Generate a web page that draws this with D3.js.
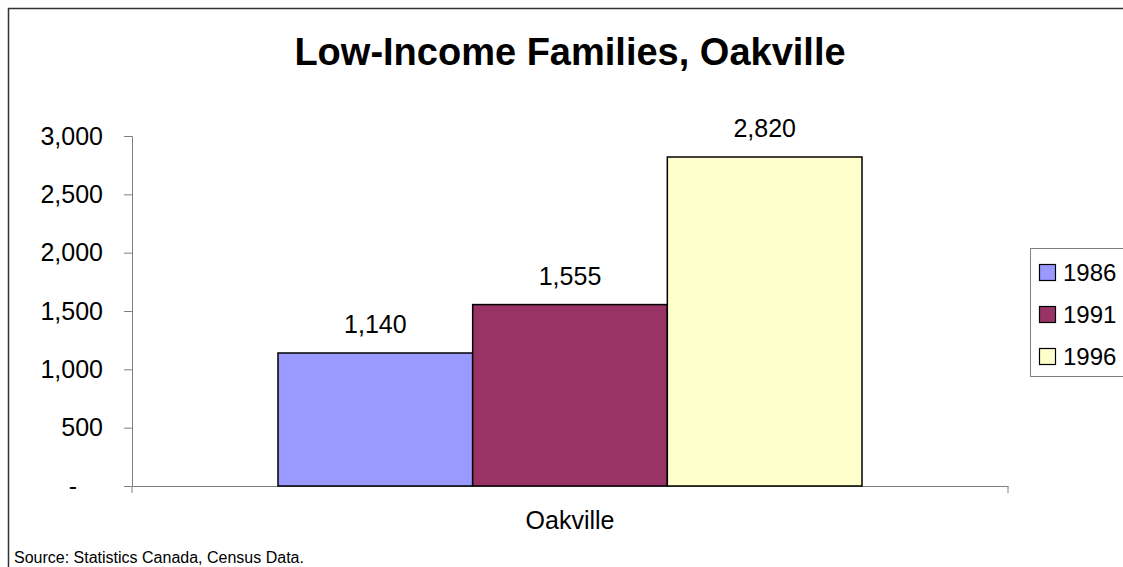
<!DOCTYPE html>
<html>
<head>
<meta charset="utf-8">
<script src="https://cdn.jsdelivr.net/npm/d3@7"></script>
<style>
  body { margin: 0; background: #fff; }
  text { font-family: "Liberation Sans", Arial, sans-serif; fill: #000; }
</style>
</head>
<body>
<div id="chart"></div>
<script>
const categories = ['Oakville'];
const years = ['1986', '1991', '1996'];
const values = [1140, 1555, 2820];
const colors = ['#9999FF', '#993366', '#FFFFCC'];
const yTicks = [0, 500, 1000, 1500, 2000, 2500, 3000];

const width = 1123, height = 567;
const plot = { left: 132, right: 1008, top: 136, bottom: 486 };
const font = '"Liberation Sans", Arial, sans-serif';

const svg = d3.select('#chart')
    .append('svg')
    .attr('width', width)
    .attr('height', height);

// outer frame (runs off the right and bottom edge)
svg.append('rect')
    .attr('x', 8.5).attr('y', 8.5)
    .attr('width', 1130).attr('height', 600)
    .attr('fill', 'none')
    .attr('stroke', '#333')
    .attr('stroke-width', 1.5);

svg.append('text')
    .attr('x', 570).attr('y', 65)
    .attr('text-anchor', 'middle')
    .attr('font-size', '38px')
    .attr('font-weight', 'bold')
    .text('Low-Income Families, Oakville');

const y = d3.scaleLinear().domain([0, 3000]).range([plot.bottom, plot.top]);
const x0 = d3.scaleBand().domain(categories).range([plot.left, plot.right]);
const x1 = d3.scaleBand().domain(years)
    .range([0, x0.bandwidth()])
    .paddingOuter(0.75)
    .paddingInner(0);

const fmt = d3.format(',');

const yAxis = svg.append('g')
    .attr('transform', `translate(${plot.left},0)`)
    .call(d3.axisLeft(y).tickValues(yTicks).tickSize(8).tickPadding(21)
        .tickFormat(d => d === 0 ? '-' : fmt(d)));
yAxis.selectAll('path, line').attr('stroke', '#808080');
yAxis.selectAll('text').attr('font-size', '25px')
    .attr('font-family', font)
    .attr('fill', '#000');
yAxis.selectAll('.tick text').filter(d => d === 0).attr('dx', '-26px');

const xAxis = svg.append('g')
    .attr('transform', `translate(0,${plot.bottom})`)
    .call(d3.axisBottom(x0).tickSize(0).tickPadding(25));
xAxis.select('.domain').attr('stroke', '#808080');
xAxis.selectAll('text').attr('font-size', '25px')
    .attr('font-family', font)
    .attr('fill', '#000');
// end ticks of the category axis
xAxis.selectAll('.edge')
    .data(x0.range())
    .enter().append('line')
    .attr('x1', d => d).attr('x2', d => d)
    .attr('y1', 0).attr('y2', 7)
    .attr('stroke', '#808080');

const group = svg.append('g')
    .attr('transform', `translate(${x0(categories[0])},0)`);

group.selectAll('rect.bar')
    .data(values)
    .enter().append('rect')
    .attr('class', 'bar')
    .attr('x', (d, i) => x1(years[i]))
    .attr('y', d => y(d))
    .attr('width', x1.bandwidth())
    .attr('height', d => y(0) - y(d))
    .attr('fill', (d, i) => colors[i])
    .attr('stroke', '#000')
    .attr('stroke-width', 1.5);

group.selectAll('text.label')
    .data(values)
    .enter().append('text')
    .attr('class', 'label')
    .attr('x', (d, i) => x1(years[i]) + x1.bandwidth() / 2)
    .attr('y', d => y(d) - 20)
    .attr('text-anchor', 'middle')
    .attr('font-size', '25px')
    .text(d => fmt(d));

// legend
const legend = svg.append('g').attr('transform', 'translate(1030,248)');
legend.append('rect')
    .attr('x', 0.5).attr('y', 0.5)
    .attr('width', 110).attr('height', 128)
    .attr('fill', '#fff')
    .attr('stroke', '#808080');

const item = legend.selectAll('g.item')
    .data(years)
    .enter().append('g')
    .attr('class', 'item')
    .attr('transform', (d, i) => `translate(0,${24 + i * 42})`);
item.append('rect')
    .attr('x', 9.5).attr('y', -7.5)
    .attr('width', 16).attr('height', 16)
    .attr('fill', (d, i) => colors[i])
    .attr('stroke', '#000')
    .attr('stroke-width', 1.2);
item.append('text')
    .attr('x', 33).attr('y', 8.5)
    .attr('font-size', '24px')
    .text(d => d);

svg.append('text')
    .attr('x', 14).attr('y', 563)
    .attr('font-size', '16px')
    .text('Source: Statistics Canada, Census Data.');
</script>
</body>
</html>
